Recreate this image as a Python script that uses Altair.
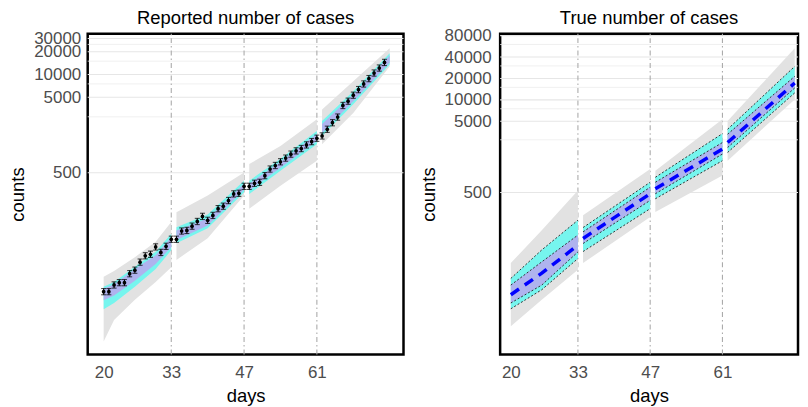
import altair as alt
import pandas as pd

FONT = "Liberation Sans"

# ---------------- data ----------------
TITLE_LEFT = "Reported number of cases"
TITLE_RIGHT = "True number of cases"
X_TICKS = [20, 33, 47, 61]
BREAK_DAYS = [33, 47, 61]

# Left panel: reported daily counts (points with error bars), days 20-74
REP_DAYS = list(range(20, 75))
REP_COUNTS = [13.3, 13.3, 16.3, 17.5, 17.5, 23, 25.6, 32.7, 39.7, 41.6, 52, 44, 53, 65.7,
              65.7, 84.5, 86, 98, 113, 132, 117, 136, 167, 180, 214, 262, 267, 330,
              330, 362, 373, 457, 559, 623, 698, 780, 881, 973, 1045, 1167, 1291, 1430,
              1534, 1880, 2296, 2727, 3885, 4426, 5311, 6300, 7480, 8810, 10450, 12160, 14430]
ERR_FACTOR = 1.1

# Left panel bands (4 fitted segments)
L_DAYS = [20, 22, 26, 30, 33, 34, 40, 47, 48, 54, 61, 62, 68, 75]
L_SEG = [1, 1, 1, 1, 1, 2, 2, 2, 3, 3, 3, 4, 4, 4]
L_GRAY_LO = [2.9, 5.6, 10.4, 17.9, 28, 35, 68, 249, 166, 337, 719, 1193, 3076, 12780]
L_GRAY_HI = [21, 25, 38, 61, 111, 150, 249, 505, 650, 1133, 2545, 3444, 8120, 22270]
L_CYAN_LO = [7.8, 9.4, 15.5, 26.5, 47, 58, 92, 275, 262, 531, 1193, 1534, 4045, 13580]
L_CYAN_HI = [15.5, 17.8, 28.5, 45, 78, 95, 140, 392, 392, 764, 1786, 2415, 5995, 19140]
L_LAV_LO = [10.2, 11.8, 18.5, 31, 52, 64, 100, 299, 290, 582, 1318, 1680, 4430, 14450]
L_LAV_HI = [14.6, 16.6, 26.5, 40.5, 70, 86, 124, 358, 358, 698, 1630, 2207, 5470, 17870]

# Right panel bands and median (true number of cases)
R_DAYS = [20, 26, 33, 34, 47, 48, 61, 62, 75]
R_SEG = [1, 1, 1, 2, 2, 3, 3, 4, 4]
R_MEDIAN = [18.3, 36.7, 91, 113, 480, 563, 2035, 2515, 17270]
R_LAV_LO = [14, 25, 73, 96, 387, 480, 1733, 2141, 14700]
R_LAV_HI = [25, 53, 126, 140, 593, 696, 2515, 3294, 21400]
R_CYAN_LO = [11.6, 21.5, 59, 74, 296, 408, 1397, 1824, 12530]
R_CYAN_HI = [31, 78, 204, 161, 696, 817, 3357, 3866, 29540]
R_GRAY_LO = [6.6, 15.6, 41, 51, 226, 265, 863, 1397, 10140]
R_GRAY_HI = [51, 147, 533, 239, 1070, 1013, 5330, 5050, 53150]

L_Y_MAJOR = [500, 5000, 10000, 20000, 30000]
L_Y_MINOR = [2750, 7500, 15000, 25000]
R_Y_MAJOR = [500, 5000, 10000, 20000, 40000, 80000]
R_Y_MINOR = [2750, 7500, 15000, 30000, 60000]

L_X_DOMAIN = [16.93, 77.66]
L_Y_DOMAIN = [1.96, 34700]
R_X_DOMAIN = [17.93, 75.64]
R_Y_DOMAIN = [2.65, 85200]

GRAY = "#e2e2e2"
CYAN = "#76f5ee"
LAV = "#afb3ee"

L_W, R_W, H = 317, 299, 322


def make_x(field, domain):
    return alt.X(field, type="quantitative",
                 scale=alt.Scale(domain=domain, nice=False, zero=False),
                 axis=alt.Axis(values=X_TICKS, title="days", grid=False, ticks=False,
                               tickSize=0, domain=False, labelPadding=10, titlePadding=6,
                               format="d", labelFlush=False))


def make_y(field, domain, ticks, lp):
    return alt.Y(field, type="quantitative",
                 scale=alt.Scale(type="log", domain=domain, nice=False, zero=False),
                 axis=alt.Axis(values=ticks, title="counts", grid=False, ticks=False,
                               tickSize=0, domain=False, labelPadding=lp, titlePadding=6,
                               format="d", labelOverlap=False, labelFlush=False))


def panel_base(xd, yd, ymaj, ymin, lp):
    X = lambda f: make_x(f, xd)
    Y = lambda f: make_y(f, yd, ymaj, lp)
    grid_major = alt.Chart(pd.DataFrame({"g": ymaj})).mark_rule(
        color="#e6e6e6", strokeWidth=1.1).encode(y=Y("g"))
    grid_minor = alt.Chart(pd.DataFrame({"g": ymin})).mark_rule(
        color="#ececec", strokeWidth=0.8).encode(y=Y("g"))
    vlines = alt.Chart(pd.DataFrame({"d": BREAK_DAYS})).mark_rule(
        color="#ababab", strokeWidth=1.1, strokeDash=[1.5, 3, 5, 3]).encode(x=X("d"))
    return X, Y, [grid_minor, grid_major, vlines]


def band(df, lo, hi, color, X, Y):
    return alt.Chart(df).mark_area(color=color, opacity=1, clip=True).encode(
        x=X("day"), y=Y(lo), y2=alt.Y2(hi), detail="seg:N")


def title_mark(txt, width):
    return alt.Chart(pd.DataFrame({"t": [txt]})).mark_text(
        font=FONT, fontSize=18.5, color="black", align="center", baseline="alphabetic"
    ).encode(text="t:N", x=alt.value(width / 2), y=alt.value(-10))


# ---------------- left panel ----------------
lX, lY, lbase = panel_base(L_X_DOMAIN, L_Y_DOMAIN, L_Y_MAJOR, L_Y_MINOR, 7)
ldf = pd.DataFrame({"day": L_DAYS, "seg": L_SEG, "glo": L_GRAY_LO, "ghi": L_GRAY_HI,
                    "clo": L_CYAN_LO, "chi": L_CYAN_HI, "llo": L_LAV_LO, "lhi": L_LAV_HI})
pts = pd.DataFrame({"day": REP_DAYS, "count": REP_COUNTS})
pbase = alt.Chart(pts).transform_calculate(
    lo=f"datum.count / {ERR_FACTOR}", hi=f"datum.count * {ERR_FACTOR}")
ebar = pbase.mark_rule(color="black", strokeWidth=1.1).encode(
    x=lX("day"), y=lY("lo:Q"), y2="hi:Q")
cap_lo = pbase.mark_tick(color="black", orient="horizontal", size=5, thickness=1.1).encode(
    x=lX("day"), y=lY("lo:Q"))
cap_hi = pbase.mark_tick(color="black", orient="horizontal", size=5, thickness=1.1).encode(
    x=lX("day"), y=lY("hi:Q"))
dots = pbase.mark_point(filled=True, color="black", size=14, opacity=1).encode(
    x=lX("day"), y=lY("count"))

left = alt.layer(
    *lbase,
    band(ldf, "glo", "ghi", GRAY, lX, lY),
    band(ldf, "clo", "chi", CYAN, lX, lY),
    band(ldf, "llo", "lhi", LAV, lX, lY),
    ebar, cap_lo, cap_hi, dots,
    title_mark(TITLE_LEFT, L_W),
).properties(width=L_W, height=H)

# ---------------- right panel ----------------
rX, rY, rbase = panel_base(R_X_DOMAIN, R_Y_DOMAIN, R_Y_MAJOR, R_Y_MINOR, 9)
rdf = pd.DataFrame({"day": R_DAYS, "seg": R_SEG, "glo": R_GRAY_LO, "ghi": R_GRAY_HI,
                    "clo": R_CYAN_LO, "chi": R_CYAN_HI, "llo": R_LAV_LO, "lhi": R_LAV_HI,
                    "med": R_MEDIAN})
edges = alt.Chart(rdf).transform_fold(
    ["clo", "chi", "llo", "lhi"], as_=["edge", "val"]
).mark_line(color="#222222", strokeWidth=0.9, strokeDash=[2, 2], clip=True).encode(
    x=rX("day"), y=rY("val:Q"), detail=["seg:N", "edge:N"])
median = alt.Chart(rdf).mark_line(color="#0000ff", strokeWidth=3.5, strokeDash=[10, 7],
                                  clip=True).encode(
    x=rX("day"), y=rY("med"), detail="seg:N")

right = alt.layer(
    *rbase,
    band(rdf, "glo", "ghi", GRAY, rX, rY),
    band(rdf, "clo", "chi", CYAN, rX, rY),
    band(rdf, "llo", "lhi", LAV, rX, rY),
    edges, median,
    title_mark(TITLE_RIGHT, R_W),
).properties(width=R_W, height=H)

chart = alt.hconcat(left, right, spacing=12).properties(
    padding={"top": -2, "left": -1, "right": 0, "bottom": 0}, background="white"
).configure_view(
    stroke="black", strokeWidth=2.5
).configure_axis(
    labelFont=FONT, titleFont=FONT, labelFontSize=17, titleFontSize=18.5,
    labelColor="#4d4d4d", titleColor="black", titleFontWeight="normal"
)

chart.save("out.html", embed_options={"renderer": "svg", "actions": False})
